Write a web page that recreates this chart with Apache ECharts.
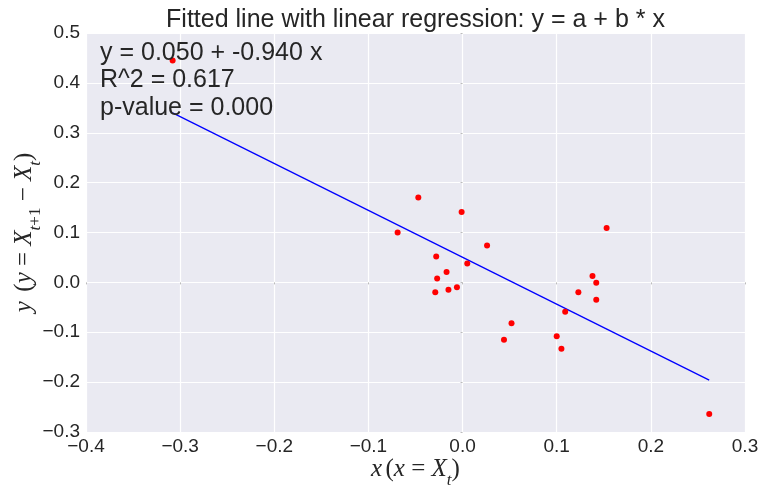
<!DOCTYPE html>
<html><head><meta charset="utf-8">
<script src="https://cdn.jsdelivr.net/npm/echarts@6/dist/echarts.min.js"></script>
<style>html,body{margin:0;padding:0;background:#fff}#c{width:761px;height:486px}</style>
</head><body><div id="c"></div>
<script>
const xValues = [-0.308,-0.047,-0.069,-0.001,-0.028,0.026,0.005,-0.017,-0.027,-0.029,-0.015,-0.006,0.052,0.044,0.100,0.105,0.109,0.123,0.138,0.142,0.142,0.153,0.262];
const yValues = [0.445,0.170,0.100,0.141,0.052,0.074,0.038,0.021,0.008,-0.020,-0.015,-0.010,-0.082,-0.115,-0.108,-0.133,-0.059,-0.020,0.013,-0.001,-0.035,0.109,-0.264];
const fitX = [-0.308, 0.262];
const fitY = [0.340, -0.196];
const xTicks = [-0.4,-0.3,-0.2,-0.1,0.0,0.1,0.2,0.3];
const yTicks = [-0.3,-0.2,-0.1,0.0,0.1,0.2,0.3,0.4,0.5];
const titleText = 'Fitted line with linear regression: y = a + b * x';
const statLines = ['y = 0.050 + -0.940 x','R^2 = 0.617','p-value = 0.000'];

const fmt = v => v.toFixed(1).replace('-', '\u2212');
const chart = echarts.init(document.getElementById('c'), null, {renderer:'canvas'});
const sans = 'Liberation Sans, Arial, sans-serif';
const serif = 'Liberation Serif';
const serifRich = {
  i:{fontFamily:serif,fontStyle:'italic',fontSize:25,color:'#262626',verticalAlign:'bottom',padding:[0,0,7,0]},
  n:{fontFamily:serif,fontSize:25,color:'#262626',verticalAlign:'bottom',padding:[0,0,7,0]},
  s:{fontFamily:serif,fontStyle:'italic',fontSize:17,color:'#262626',verticalAlign:'bottom'},
  sn:{fontFamily:serif,fontSize:17,color:'#262626',verticalAlign:'bottom'}
};
const statGraphics = statLines.map((t,i)=>({type:'text',x:100,y:53+i*27.5,
  style:{text:t,font:'25px '+sans,fill:'#262626',verticalAlign:'middle',align:'left'},z:10}));
chart.setOption({
  animation:false,
  backgroundColor:'#ffffff',
  grid:{left:86,right:16,top:33,bottom:54,show:true,backgroundColor:'#EAEAF2',borderWidth:0,
        containLabel:false,outerBoundsMode:'none'},
  graphic:[
    {type:'text',x:415.5,y:20,style:{text:titleText,font:'25px '+sans,fill:'#262626',align:'center',verticalAlign:'middle'}}
  ].concat(statGraphics),
  xAxis:{type:'value',min:-0.4,max:0.3,interval:0.1,
    axisLine:{show:false},axisTick:{show:true,length:2,lineStyle:{color:'#bbbbbb'}},
    splitLine:{show:true,lineStyle:{color:'#ffffff',width:1.2}},
    axisLabel:{formatter:fmt,fontFamily:sans,fontSize:19,color:'#262626',margin:5},
    name:'{i|x} {n|(}{i|x}{n| = }{i|X}{s|t}{n|)}',nameLocation:'middle',nameGap:25,nameMoveOverlap:false,
    nameTextStyle:{rich:serifRich}
  },
  yAxis:{type:'value',min:-0.3,max:0.5,interval:0.1,
    axisLine:{show:false},axisTick:{show:true,length:2,lineStyle:{color:'#bbbbbb'}},
    splitLine:{show:true,lineStyle:{color:'#ffffff',width:1.2}},
    axisLabel:{formatter:fmt,fontFamily:sans,fontSize:19,color:'#262626',margin:6},
    name:'{i|y} {n| (}{i|y}{n| = }{i|X}{s|t}{sn|+1}{n| − }{i|X}{s|t}{n|)}',nameLocation:'middle',nameGap:42,nameRotate:90,nameMoveOverlap:false,
    nameTextStyle:{rich:serifRich}
  },
  series:[
    {type:'line',data:fitX.map((x,i)=>[x,fitY[i]]),showSymbol:false,symbol:'none',
     lineStyle:{color:'#0000ff',width:1.3},z:2},
    {type:'scatter',data:xValues.map((x,i)=>[x,yValues[i]]),symbolSize:6,
     itemStyle:{color:'#ff0000',opacity:1},z:3}
  ]
});
</script></body></html>
